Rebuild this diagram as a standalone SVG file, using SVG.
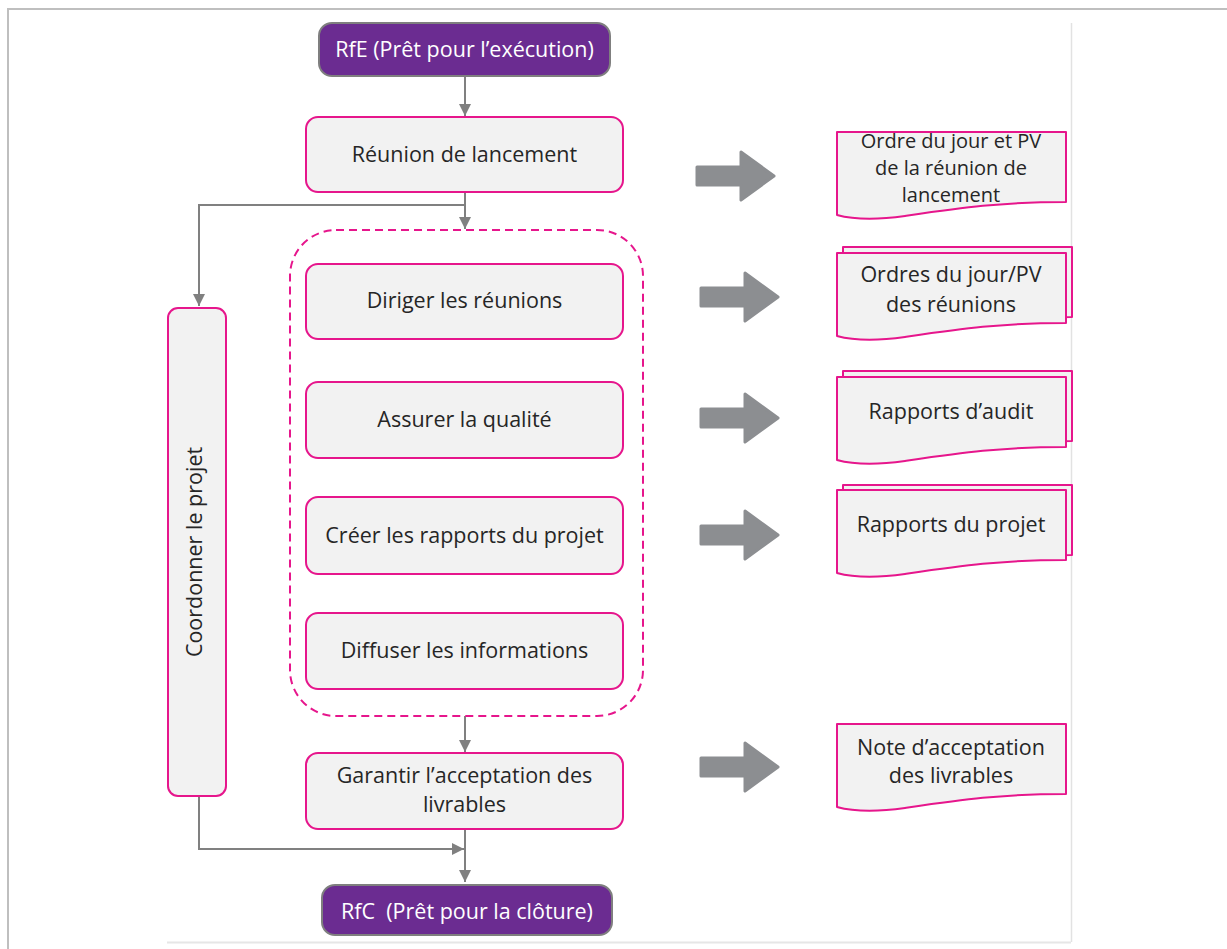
<svg xmlns="http://www.w3.org/2000/svg" width="1227" height="949" viewBox="0 0 1227 949">
<style>
.t{font-family:"Open Sans","Noto Sans","Liberation Sans",sans-serif;fill:#262626;text-anchor:middle;font-size:21.5px}
.w{font-family:"Open Sans","Noto Sans","Liberation Sans",sans-serif;fill:#ffffff;text-anchor:middle;font-size:21.5px}
.box{fill:#f2f2f2;stroke:#e6168c;stroke-width:2}
.term{fill:#6b2c91;stroke:#7f7f7f;stroke-width:2}
.doc{fill:#f2f2f2;stroke:#e6168c;stroke-width:2;stroke-linejoin:round}
.con{fill:none;stroke:#808080;stroke-width:2}
.blk{fill:#8c8e91;stroke:#8c8e91;stroke-width:3;stroke-linejoin:round}
</style>
<defs>
<marker id="ah" viewBox="0 0 10 10" refX="10" refY="5" markerWidth="6" markerHeight="6" markerUnits="strokeWidth" orient="auto">
<path d="M0,0 L10,5 L0,10 Z" fill="#808080"/>
</marker>
<path id="docshape" d="M0,0 H229 V70 C163,70 123,76 68,84 C33,89 11,86 0,83 Z"/>
<path id="blkarrow" d="M0,15 H44 V0 L77,24 L44,48 V33 H0 Z"/>
</defs>
<rect width="1227" height="949" fill="#ffffff"/>
<g id="frame">
<path d="M8,949 V9 H1227" fill="none" stroke="#bfbfbf" stroke-width="2"/>
<line x1="1071.5" y1="23" x2="1071.5" y2="942" stroke="#e2e2e2" stroke-width="1.5"/>
<line x1="167" y1="942.5" x2="1071" y2="942.5" stroke="#e6e6e6" stroke-width="2"/>
</g>
<g id="connectors">
<line class="con" x1="465" y1="77" x2="465" y2="116" marker-end="url(#ah)"/>
<line class="con" x1="465" y1="193" x2="465" y2="229" marker-end="url(#ah)"/>
<polyline class="con" points="465,205 199,205 199,306" marker-end="url(#ah)"/>
<line class="con" x1="465" y1="716" x2="465" y2="752" marker-end="url(#ah)"/>
<line class="con" x1="465" y1="830" x2="465" y2="882" marker-end="url(#ah)"/>
<polyline class="con" points="199,797 199,849 464,849" marker-end="url(#ah)"/>
</g>
<g id="rfe">
<rect class="term" x="319" y="23" width="291" height="53" rx="13"/>
<text class="w" x="464.5" y="57">RfE (Prêt pour l’exécution)</text>
</g>
<g id="reunion">
<rect class="box" x="306" y="117" width="317" height="75" rx="12"/>
<text class="t" x="464.5" y="162">Réunion de lancement</text>
</g>
<g id="coordonner">
<rect class="box" x="168" y="308" width="58" height="488" rx="10"/>
<text class="t" x="0" y="0" transform="translate(202,552) rotate(-90)">Coordonner le projet</text>
</g>
<g id="groupe">
<rect x="290" y="230" width="353" height="486" rx="46" fill="none" stroke="#e6168c" stroke-width="2" stroke-dasharray="8,5"/>
</g>
<g id="diriger">
<rect class="box" x="306" y="264" width="317" height="75" rx="12"/>
<text class="t" x="464.5" y="308">Diriger les réunions</text>
</g>
<g id="assurer">
<rect class="box" x="306" y="382" width="317" height="76" rx="12"/>
<text class="t" x="464.5" y="427">Assurer la qualité</text>
</g>
<g id="creer">
<rect class="box" x="306" y="497" width="317" height="77" rx="12"/>
<text class="t" x="464.5" y="543">Créer les rapports du projet</text>
</g>
<g id="diffuser">
<rect class="box" x="306" y="613" width="317" height="76" rx="12"/>
<text class="t" x="464.5" y="658">Diffuser les informations</text>
</g>
<g id="garantir">
<rect class="box" x="306" y="753" width="317" height="76" rx="12"/>
<text class="t" x="464.5" y="783">Garantir l’acceptation des</text>
<text class="t" x="464.5" y="812">livrables</text>
</g>
<g id="rfc">
<rect class="term" x="322" y="885" width="290" height="50" rx="13"/>
<text class="w" x="467" y="919">RfC&#160; (Prêt pour la clôture)</text>
</g>
<g id="arrows">
<use href="#blkarrow" class="blk" x="697" y="152"/>
<use href="#blkarrow" class="blk" x="701" y="273"/>
<use href="#blkarrow" class="blk" x="701" y="394"/>
<use href="#blkarrow" class="blk" x="701" y="511"/>
<use href="#blkarrow" class="blk" x="701" y="743"/>
</g>
<g id="doc1">
<use href="#docshape" class="doc" x="837" y="132"/>
<text class="t" x="951" y="148" style="font-size:20px">Ordre du jour et PV</text>
<text class="t" x="951" y="175" style="font-size:20px">de la réunion de</text>
<text class="t" x="951" y="202" style="font-size:20px">lancement</text>
</g>
<g id="doc2">
<use href="#docshape" class="doc" x="843" y="247"/>
<use href="#docshape" class="doc" x="837" y="253"/>
<text class="t" x="951" y="282">Ordres du jour/PV</text>
<text class="t" x="951" y="312">des réunions</text>
</g>
<g id="doc3">
<use href="#docshape" class="doc" x="843" y="371"/>
<use href="#docshape" class="doc" x="837" y="377"/>
<text class="t" x="951" y="419">Rapports d’audit</text>
</g>
<g id="doc4">
<use href="#docshape" class="doc" x="843" y="485"/>
<use href="#docshape" class="doc" x="837" y="490"/>
<text class="t" x="951" y="532">Rapports du projet</text>
</g>
<g id="doc5">
<use href="#docshape" class="doc" x="837" y="724"/>
<text class="t" x="951" y="755">Note d’acceptation</text>
<text class="t" x="951" y="783">des livrables</text>
</g>
</svg>
